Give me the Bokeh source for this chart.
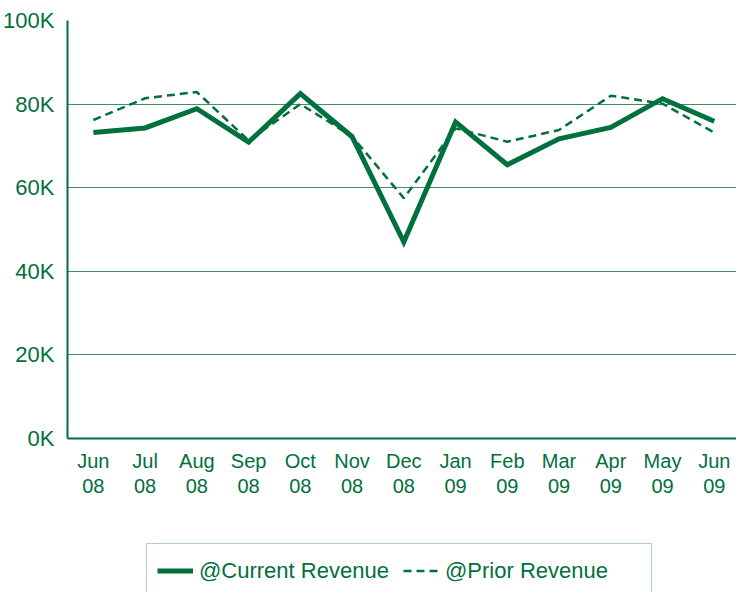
from bokeh.plotting import figure
from bokeh.layouts import column
from bokeh.models import FixedTicker, Legend, LegendItem, Range1d
from bokeh.embed import file_html
from bokeh.resources import INLINE

months = ["Jun 08", "Jul 08", "Aug 08", "Sep 08", "Oct 08", "Nov 08", "Dec 08",
          "Jan 09", "Feb 09", "Mar 09", "Apr 09", "May 09", "Jun 09"]
current_revenue = [73200, 74300, 78900, 70900, 82500, 72200, 47000,
                   75700, 65500, 71700, 74400, 81300, 75900]
prior_revenue = [76200, 81400, 82900, 71300, 80000, 72300, 57500,
                 74200, 71000, 73800, 82000, 80100, 73200]
y_ticks = [0, 20000, 40000, 60000, 80000, 100000]
y_tick_labels = ["0K", "20K", "40K", "60K", "80K", "100K"]
series_names = ["@Current Revenue", "@Prior Revenue"]

GREEN = "#00703c"
GRID = "#3f8f60"
FONT = "Liberation Sans"

xs = list(range(len(months)))

p = figure(width=736, height=543, output_backend="svg", toolbar_location=None,
           x_range=Range1d(-0.5, 12.43), y_range=Range1d(0, 100000),
           min_border_left=67, min_border_right=0, min_border_top=20,
           min_border_bottom=105)
p.outline_line_color = None
p.background_fill_color = "white"

cur_style = dict(line_color=GREEN, line_width=5, line_join="miter")
pri_style = dict(line_color=GREEN, line_width=2.5, line_dash="8 5")

p.line(xs, current_revenue, **cur_style)
p.line(xs, prior_revenue, **pri_style)

# axes
p.xaxis.ticker = FixedTicker(ticks=xs)
p.xaxis.major_label_overrides = {i: m.replace(" ", "\n") for i, m in enumerate(months)}
p.yaxis.ticker = FixedTicker(ticks=y_ticks)
p.yaxis.major_label_overrides = {t: l for t, l in zip(y_ticks, y_tick_labels)}

for ax in (p.xaxis, p.yaxis):
    ax.axis_line_color = GREEN
    ax.axis_line_width = 2
    ax.major_tick_line_color = None
    ax.minor_tick_line_color = None
    ax.major_label_text_color = GREEN
    ax.major_label_text_font = FONT

p.xaxis.major_label_text_font_size = "20px"
p.xaxis.major_label_text_line_height = 1.15
p.xaxis.major_label_standoff = 5
p.yaxis.major_label_text_font_size = "22px"
p.yaxis.major_label_standoff = 7

p.xgrid.grid_line_color = None
p.ygrid.ticker = FixedTicker(ticks=y_ticks)
p.ygrid.grid_line_color = GRID
p.ygrid.grid_line_width = 1

# legend strip below the chart (lines here lie outside its ranges, only the legend shows)
lg = figure(width=736, height=49, output_backend="svg", toolbar_location=None,
            x_range=Range1d(0, 1), y_range=Range1d(0, 1),
            x_axis_location=None, y_axis_location=None,
            min_border_left=0, min_border_right=0, min_border_top=0,
            min_border_bottom=0)
lg.grid.visible = False
lg.outline_line_color = None
l_cur = lg.line(xs, current_revenue, **cur_style)
l_pri = lg.line(xs, prior_revenue, **pri_style)

legend = Legend(items=[LegendItem(label=series_names[0], renderers=[l_cur]),
                       LegendItem(label=series_names[1], renderers=[l_pri])],
                orientation="horizontal", location=(79, -6))
legend.label_text_font = FONT
legend.label_text_font_size = "22px"
legend.label_text_color = GREEN
legend.glyph_width = 36
legend.label_standoff = 6
legend.spacing = 8
legend.padding = 10
legend.label_width = 196
legend.label_height = 33
legend.glyph_height = 33
legend.border_line_color = "#5ea77c"
legend.border_line_width = 1
legend.background_fill_color = "white"
legend.background_fill_alpha = 1
legend.margin = 0
lg.add_layout(legend, "center")

layout = column(p, lg, spacing=0)
open("out.html", "w").write(file_html(layout, INLINE))
